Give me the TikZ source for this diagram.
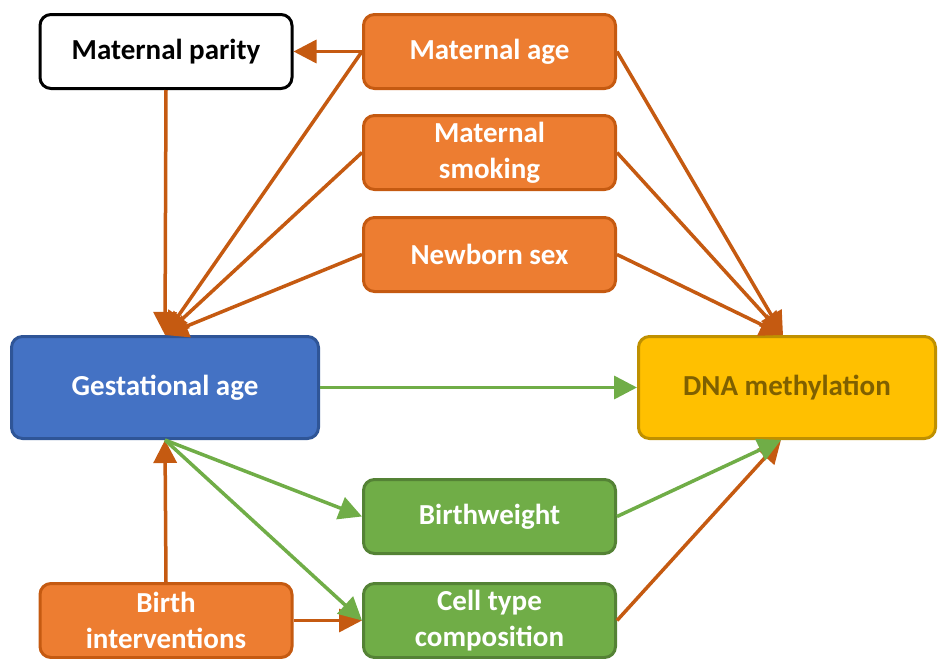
\documentclass[tikz,border=0pt]{standalone}
\usepackage{fontspec}
\setmainfont{Carlito}
\usetikzlibrary{arrows.meta,positioning}
\definecolor{orfill}{HTML}{ED7D31}
\definecolor{ordraw}{HTML}{C55A11}
\definecolor{blfill}{HTML}{4472C4}
\definecolor{bldraw}{HTML}{2F5597}
\definecolor{grfill}{HTML}{70AD47}
\definecolor{grdraw}{HTML}{548235}
\definecolor{gofill}{HTML}{FFC000}
\definecolor{godraw}{HTML}{BF9000}
\definecolor{gotext}{HTML}{7F6000}
\tikzset{
  box/.style={rectangle,rounded corners=11pt,line width=3pt,align=center,
    font=\fontsize{29}{36}\selectfont\bfseries,inner sep=0pt,
    minimum width=252pt,minimum height=74pt},
  conf/.style={box,fill=orfill,draw=ordraw,text=white},
  medi/.style={box,fill=grfill,draw=grdraw,text=white},
  oarr/.style={draw=ordraw,line width=3.5pt,-{Triangle[length=23pt,width=23pt]}},
  garr/.style={draw=grfill,line width=3.5pt,-{Triangle[length=23pt,width=23pt]}}
}
\begin{document}
\begin{tikzpicture}[x=1pt,y=-1pt,on grid]
  \useasboundingbox (0,0) rectangle (938,659);
  \node[box,draw=black,fill=white,text=black] (parity) at (166,51.5) {Maternal parity};
  \node[conf] (mage) at (489.5,51.5) {Maternal age};
  \node[conf] (smoke) [below=101pt of mage] {Maternal\\smoking};
  \node[conf] (sex) [below=102pt of smoke] {Newborn sex};

  \node[box,fill=blfill,draw=bldraw,text=white,minimum width=307pt,minimum height=102pt]
     (gest) at (165,387.5) {Gestational age};
  \node[box,fill=gofill,draw=godraw,text=gotext,minimum width=297pt,minimum height=102pt]
     (dna) at (787,387.5) {DNA methylation};

  \node[medi] (bw) at (489.5,516.5) {Birthweight};
  \node[medi] (cell) [below=104pt of bw] {Cell type\\composition};
  \node[conf] (birth) at (166,620.5) {Birth\\interventions};

  % confounders
  \draw[oarr] (mage.west) -- (parity.east);
  \draw[oarr] (parity.south) -- (gest.north);
  \draw[oarr] (mage.west) -- (gest.north);
  \draw[oarr] (smoke.west) -- (gest.north);
  \draw[oarr] (sex.west) -- (gest.north);
  \draw[oarr] (mage.east) -- ([xshift=-4pt]dna.north);
  \draw[oarr] (smoke.east) -- ([xshift=-4pt]dna.north);
  \draw[oarr] (sex.east) -- ([xshift=-4pt]dna.north);
  \draw[oarr] (birth.north) -- (gest.south);
  \draw[oarr] (birth.east) -- (cell.west);
  \draw[oarr] (cell.east) -- ([xshift=-6pt]dna.south);

  % mediators
  \draw[garr] (gest.east) -- (dna.west);
  \draw[garr] (gest.south) -- (bw.west);
  \draw[garr] (gest.south) -- (cell.west);
  \draw[garr] (bw.east) -- ([xshift=-6pt]dna.south);
\end{tikzpicture}
\end{document}
